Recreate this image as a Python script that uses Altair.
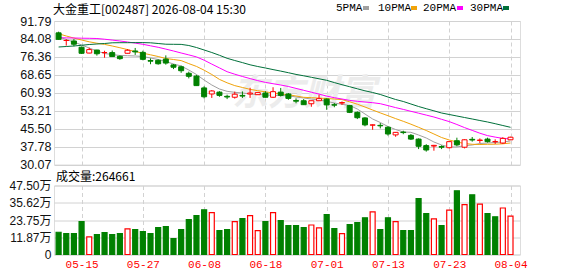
import altair as alt
import pandas as pd

# ---- data -------------------------------------------------------------
dates = ["05-12", "05-13", "05-14", "05-15", "05-18", "05-19", "05-20", "05-21", "05-22", "05-25",
         "05-26", "05-27", "05-28", "05-29", "06-01", "06-02", "06-03", "06-04", "06-05", "06-08",
         "06-09", "06-10", "06-11", "06-12", "06-15", "06-16", "06-17", "06-18", "06-22", "06-23",
         "06-24", "06-25", "06-26", "06-29", "06-30", "07-01", "07-02", "07-03", "07-06", "07-07",
         "07-08", "07-09", "07-10", "07-13", "07-14", "07-15", "07-16", "07-17", "07-20", "07-21",
         "07-22", "07-23", "07-24", "07-27", "07-28", "07-29", "07-30", "07-31", "08-03", "08-04"]

opens = [86.7, 83.4, 83.2, 80.5, 78.0, 79.3, 78.2, 78.2, 76.6, 77.9,
         78.9, 78.3, 74.8, 74.9, 75.4, 72.9, 72.1, 69.3, 68.1, 63.0,
         60.4, 61.2, 59.4, 59.0, 59.8, 60.4, 60.1, 60.8, 59.0, 61.2,
         60.4, 57.6, 57.5, 56.2, 57.5, 58.2, 55.8, 56.5, 55.4, 52.5,
         50.1, 47.0, 46.9, 46.1, 42.8, 44.0, 42.6, 41.0, 38.2, 38.0,
         37.8, 37.3, 40.3, 37.5, 40.9, 40.4, 41.0, 39.9, 39.3, 40.7]
highs = [87.2, 84.0, 84.0, 80.8, 80.3, 79.4, 79.0, 79.1, 77.0, 79.7,
         80.2, 79.0, 75.7, 75.3, 77.0, 73.3, 72.6, 70.0, 68.6, 63.7,
         62.1, 61.6, 60.1, 61.4, 61.5, 63.1, 61.0, 61.6, 63.3, 63.0,
         60.8, 58.5, 58.2, 57.5, 60.1, 58.5, 56.5, 57.2, 55.7, 52.9,
         50.4, 47.3, 47.9, 46.5, 44.0, 44.6, 43.2, 41.3, 38.8, 38.5,
         38.3, 40.0, 41.6, 40.9, 41.9, 41.3, 41.6, 40.9, 41.8, 42.0]
lows = [83.7, 81.2, 80.9, 77.6, 77.9, 76.9, 76.0, 76.3, 75.1, 77.8,
        77.2, 74.9, 73.2, 73.0, 73.0, 71.1, 69.5, 67.1, 63.9, 58.5,
        58.7, 59.2, 58.2, 58.4, 58.7, 58.7, 60.0, 58.9, 58.7, 59.3,
        57.9, 56.4, 55.7, 54.9, 57.4, 53.6, 54.7, 55.7, 52.2, 49.6,
        46.5, 45.0, 45.6, 42.5, 42.0, 43.1, 40.6, 36.7, 35.6, 36.0,
        36.7, 37.0, 37.9, 37.0, 39.9, 39.3, 39.5, 38.9, 38.9, 40.7]
closes = [83.9, 83.4, 81.8, 77.9, 79.5, 77.7, 78.2, 76.5, 75.6, 79.2,
          78.5, 75.3, 74.5, 73.4, 73.7, 71.9, 70.4, 68.0, 64.0, 59.2,
          61.7, 59.8, 59.1, 60.3, 59.5, 60.8, 61.0, 59.0, 61.4, 59.8,
          58.5, 57.3, 55.8, 57.5, 58.4, 55.7, 55.6, 56.7, 52.5, 50.2,
          47.1, 47.1, 46.7, 43.2, 43.9, 43.8, 41.0, 37.9, 36.3, 38.3,
          37.5, 39.9, 38.5, 40.7, 40.6, 40.6, 39.9, 39.9, 41.3, 41.8]

# volume in units of 万
volumes = [15.3, 14.4, 14.4, 22.6, 12.1, 13.7, 15.1, 13.7, 14.4, 17.6,
           17.1, 15.8, 14.4, 18.5, 19.2, 11.0, 17.1, 24.0, 26.7, 30.8,
           28.8, 16.4, 17.1, 22.6, 24.7, 26.7, 16.4, 22.6, 28.8, 23.3,
           19.9, 19.9, 18.5, 20.3, 18.3, 27.4, 17.8, 14.4, 20.6, 21.9,
           25.3, 29.3, 17.1, 25.3, 22.6, 16.4, 16.4, 38.4, 28.1, 24.5,
           19.9, 30.6, 43.9, 34.3, 41.1, 34.7, 28.1, 26.0, 32.0, 26.4661]

ma5 = [84.91, 83.83, 82.76, 81.47, 80.18, 78.89, 77.81, 77.38, 76.95, 76.87,
       76.74, 76.52, 75.88, 75.23, 74.37, 73.30, 72.43, 70.71, 68.78, 66.39,
       64.26, 62.54, 61.55, 61.12, 60.82, 60.39, 60.18, 59.96, 59.83, 59.75,
       59.62, 59.10, 58.67, 58.24, 57.81, 57.25, 56.52, 55.96, 55.45, 53.94,
       51.79, 49.64, 48.13, 46.42, 45.12, 44.05, 43.92, 42.76, 41.47, 39.75,
       38.46, 37.60, 37.60, 38.16, 38.46, 39.10, 39.32, 39.53, 39.75, 40.18]
ma10 = [86.29, 85.34, 84.44, 83.62, 82.84, 82.24, 81.73, 81.04, 80.30, 79.49,
        78.63, 77.94, 77.25, 76.52, 75.66, 75.23, 74.76, 73.47, 72.26, 70.63,
        68.78, 66.67, 65.21, 64.00, 63.19, 62.41, 61.81, 61.34, 60.82, 60.39,
        60.09, 59.53, 58.97, 58.80, 58.63, 58.46, 58.24, 57.98, 57.04, 56.00,
        54.80, 53.51, 52.26, 51.06, 49.81, 48.65, 47.40, 46.07, 44.70, 43.19,
        41.68, 40.61, 39.75, 39.10, 38.76, 38.67, 38.76, 38.80, 38.97, 39.32]
ma20 = [84.61, 84.52, 84.48, 84.39, 84.35, 84.26, 83.96, 83.58, 83.19, 82.76,
        82.28, 81.77, 81.12, 80.48, 79.70, 78.89, 78.03, 77.21, 76.35, 74.93,
        73.25, 71.62, 69.98, 68.91, 67.92, 67.02, 66.15, 65.38, 64.82, 64.26,
        63.62, 62.80, 61.98, 61.16, 60.35, 59.49, 58.80, 58.24, 57.64, 57.25,
        56.95, 56.65, 56.22, 55.40, 54.54, 53.77, 52.95, 52.14, 51.32, 50.50,
        49.51, 48.52, 47.28, 45.94, 44.74, 43.53, 42.50, 41.85, 41.30, 41.08]
ma30 = [80.61, 80.82, 81.04, 81.34, 81.68, 81.90, 82.11, 82.41, 82.46, 82.46,
        82.50, 82.50, 82.41, 82.11, 81.81, 81.77, 81.73, 81.25, 80.39, 79.32,
        78.24, 77.04, 75.75, 74.80, 73.90, 72.95, 72.22, 71.58, 70.89, 70.24,
        69.55, 68.82, 68.22, 67.58, 66.93, 66.28, 65.30, 64.39, 63.53, 62.63,
        61.77, 61.04, 60.18, 59.10, 58.03, 57.17, 56.09, 55.01, 54.07, 53.16,
        52.22, 51.58, 50.93, 50.28, 49.64, 48.99, 48.35, 47.62, 46.84, 46.07]

price_ticks = [30.07, 37.78, 45.50, 53.21, 60.93, 68.65, 76.36, 84.08, 91.79]
volume_ticks = [0, 11.875, 23.75, 35.625, 47.5]
tick_dates = ["05-15", "05-27", "06-08", "06-18", "07-01", "07-13", "07-23", "08-04"]
ma_names = ["5PMA", "10PMA", "20PMA", "30PMA"]

stock_title = "大金重工[002487] 2026-08-04 15:30"
volume_label = "成交量"

# ---- styling ----------------------------------------------------------
RED = "#ff0000"
GREEN = "#008000"
MA_COLORS = ["#a0a0a0", "#f0a30a", "#ff00ff", "#00703a"]
GRID = "#d2d2d2"
LABEL_FONT = "Liberation Sans, Noto Sans CJK SC"
CJK_FONT = "Noto Sans CJK SC"
MONO_FONT = "Liberation Mono"

PLOT_W = 466
PRICE_H = 143.5
VOL_H = 69

# legend item positions (pixels from the plot's left edge)
LEGEND_TEXT_X = [282, 324, 369, 416]
LEGEND_SWATCH_X = [309, 357, 403, 449]

# ---- tables -----------------------------------------------------------
n = len(dates)
bars = pd.DataFrame({
    "i": list(range(n)), "date": dates,
    "open": opens, "high": highs, "low": lows, "close": closes,
    "vol": volumes,
})

ma_long = pd.concat([
    pd.DataFrame({"i": list(range(n)), "name": name, "value": vals})
    for name, vals in zip(ma_names, [ma5, ma10, ma20, ma30])
])

legend = pd.DataFrame({
    "name": ma_names, "color": MA_COLORS,
    "tx": LEGEND_TEXT_X, "sx": LEGEND_SWATCH_X,
})
legend["sx2"] = legend["sx"] + 6

tick_idx = [dates.index(d) for d in tick_dates]
date_expr = "[" + ",".join(f"'{d}'" for d in dates) + "][datum.value]"

x_scale = alt.Scale(domain=[-0.6, 60.24], nice=False, zero=False, padding=0)
price_scale = alt.Scale(domain=[price_ticks[0], price_ticks[-1]], nice=False, zero=False, padding=0)
up_cond = "datum.close >= datum.open"

# ---- price panel ------------------------------------------------------
# identical axis specs are shared by every layer so the merged axes agree
price_x_axis = alt.Axis(
    values=tick_idx, labels=False, ticks=False, domain=False, title=None,
    grid=True, gridDash=[4, 3], gridColor=GRID)
price_y_axis = alt.Axis(
    values=price_ticks, format=".2f", title=None, ticks=False, domain=False,
    labelPadding=3, labelFlush=False, labelOverlap=False,
    grid=True, gridColor=GRID,
    labelFont=LABEL_FONT, labelFontSize=12.5, labelColor="#111")


def px(field):
    return alt.X(field, scale=x_scale, axis=price_x_axis)


def py(field):
    return alt.Y(field, scale=price_scale, axis=price_y_axis)


base = alt.Chart(bars)

watermark = alt.Chart(pd.DataFrame({"t": ["东方财富"]})).mark_text(
    font=CJK_FONT, fontSize=36, fontWeight="bold", fontStyle="italic",
    color="#ececec", align="center", baseline="middle"
).encode(text="t:N", x=alt.value(250), y=alt.value(73))

ma_lines = alt.Chart(ma_long).mark_line(strokeWidth=1).encode(
    x=px("i:Q"),
    y=py("value:Q"),
    color=alt.Color("name:N", scale=alt.Scale(domain=ma_names, range=MA_COLORS), legend=None),
)

wicks = base.mark_rule(strokeWidth=1).encode(
    x=px("i:Q"),
    y=py("low:Q"), y2="high:Q",
    color=alt.condition(up_cond, alt.value(RED), alt.value(GREEN)),
)

bodies = base.mark_bar(size=5, strokeWidth=1).encode(
    x=px("i:Q"),
    y=py("open:Q"), y2="close:Q",
    fill=alt.condition(up_cond, alt.value("#ffffff"), alt.value(GREEN)),
    stroke=alt.condition(up_cond, alt.value(RED), alt.value(GREEN)),
)

title_text = alt.Chart(pd.DataFrame({"t": [stock_title]})).mark_text(
    font=CJK_FONT, fontSize=12, align="left", baseline="middle", color="#000"
).encode(text="t:N", x=alt.value(-1), y=alt.value(-11.5))

legend_text = alt.Chart(legend).mark_text(
    font=MONO_FONT, fontSize=11, align="left", baseline="middle", color="#000"
).encode(text="name:N", x=alt.X("tx:Q", scale=None), y=alt.value(-13))

legend_swatch = alt.Chart(legend).mark_rect().encode(
    x=alt.X("sx:Q", scale=None), x2="sx2:Q",
    y=alt.value(-15), y2=alt.value(-11),
    color=alt.Color("color:N", scale=None),
)

price = alt.layer(
    watermark, ma_lines, wicks, bodies, title_text, legend_text, legend_swatch
).properties(width=PLOT_W, height=PRICE_H)

# ---- volume panel -----------------------------------------------------
vol_up = "datum.close > datum.open"
vol_bars = base.mark_bar(size=5, strokeWidth=1.2).encode(
    x=alt.X("i:Q", scale=x_scale, axis=alt.Axis(
        values=tick_idx, labelExpr=date_expr, title=None, ticks=False, domain=False,
        grid=True, gridDash=[4, 3], gridColor=GRID, labelColor=RED,
        labelFont=MONO_FONT, labelFontSize=11, labelPadding=4)),
    y=alt.Y("vol:Q", scale=alt.Scale(domain=[0, volume_ticks[-1]], nice=False, padding=0),
            axis=alt.Axis(values=volume_ticks, title=None, ticks=False, domain=False,
                          labelExpr="datum.value == 0 ? '0' : format(floor(datum.value * 100) / 100, '.2f') + '万'",
                          labelPadding=3, labelFlush=False, labelOverlap=False,
                          grid=True, gridColor=GRID,
                          labelFont=LABEL_FONT, labelFontSize=12, labelColor="#111")),
    fill=alt.condition(vol_up, alt.value("#ffffff"), alt.value(GREEN)),
    stroke=alt.condition(vol_up, alt.value(RED), alt.value(GREEN)),
)

vol_caption = alt.Chart(pd.DataFrame({"t": [f"{volume_label}:{round(volumes[-1] * 10000)}"]})).mark_text(
    font=CJK_FONT, fontSize=12, align="left", baseline="middle", color="#000"
).encode(text="t:N", x=alt.value(2), y=alt.value(-9))

volume = alt.layer(vol_bars, vol_caption).properties(width=PLOT_W, height=VOL_H)

chart = alt.vconcat(price, volume, spacing=20.5, bounds="flush").properties(
    padding={"left": 8, "top": 1, "right": 0, "bottom": 0}
).configure_view(
    stroke="#999999", strokeWidth=1
).configure(background="#ffffff")

chart.save("out.html", embed_options={"renderer": "svg", "actions": False})
